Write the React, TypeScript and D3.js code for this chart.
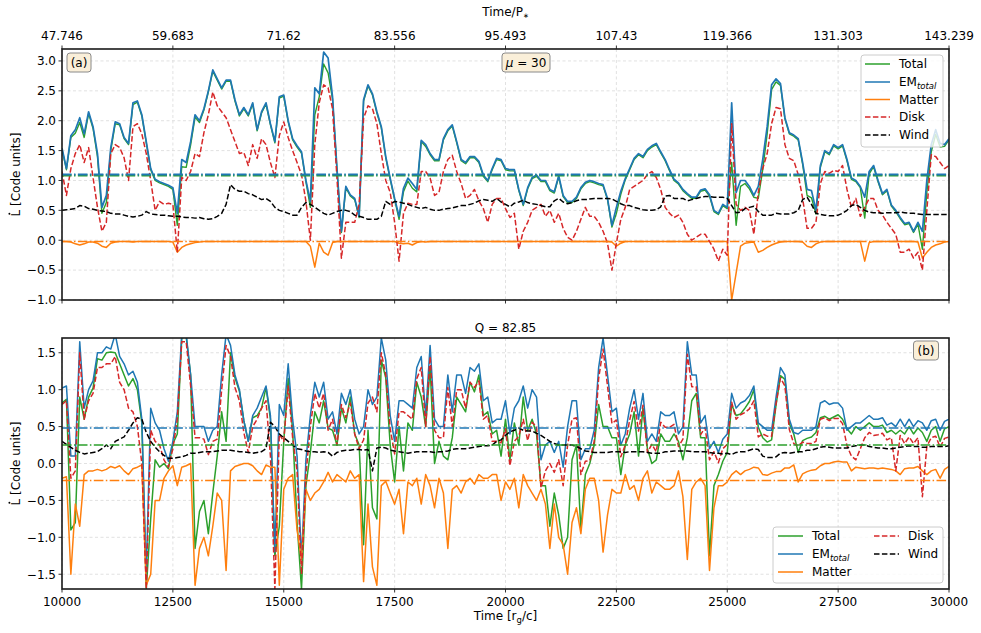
import * as d3 from 'd3';

// ---------------------------------------------------------------------------
// Data (read off the reference figure), sampled every 100 r_g/c
// ---------------------------------------------------------------------------

const TIME = d3.range(10000, 30001, 100);
const X_TICKS = [10000, 12500, 15000, 17500, 20000, 22500, 25000, 27500, 30000];
const X_TICK_LABELS = ['10000', '12500', '15000', '17500', '20000', '22500', '25000', '27500', '30000'];
const TOP_TICK_LABELS = ['47.746', '59.683', '71.62', '83.556', '95.493', '107.43', '119.366', '131.303', '143.239'];
const Y_TICKS_A = [-1, -0.5, 0, 0.5, 1, 1.5, 2, 2.5, 3];
const Y_TICKS_B = [-1.5, -1, -0.5, 0, 0.5, 1, 1.5];

// panel (a)
const TOTAL_A = [
  1.52, 1.18, 1.72, 1.79, 1.97, 1.72, 2.12, 1.87, 1.4, 0.45,
  0.63, 1.5, 1.95, 1.93, 1.7, 1.6, 2.27, 2.31, 2.08, 1.63,
  1.18, 1.0, 0.96, 0.93, 0.9, 0.85, 0.25, 1.23, 1.22, 1.59,
  2.06, 1.97, 2.18, 2.48, 2.83, 2.68, 2.53, 2.66, 2.66, 2.33,
  2.08, 2.2, 2.08, 2.28, 1.83, 2.13, 2.28, 1.93, 1.63, 2.38,
  2.41, 1.98, 1.68, 1.56, 1.46, 0.98, 0.55, 2.1, 2.4, 2.95,
  2.8, 2.36, 1.18, 0.13, 0.88, 0.74, 0.68, 0.38, 2.33, 2.58,
  2.43, 2.13, 1.88, 1.38, 1.02, 0.68, 0.35, 0.81, 0.99, 0.87,
  0.81, 1.65, 1.57, 1.43, 1.33, 1.33, 1.68, 1.83, 1.91, 1.63,
  1.33, 1.28, 1.38, 1.38, 1.3, 1.07, 0.98, 1.18, 1.35, 1.33,
  1.18, 1.16, 1.16, 0.83, 0.58, 0.86, 1.03, 1.07, 0.98, 0.98,
  0.83, 0.79, 1.06, 0.73, 0.63, 0.63, 0.7, 0.86, 0.95, 0.98,
  0.96, 0.93, 0.91, 0.68, 0.22, 0.45, 0.77, 1.01, 1.18, 1.35,
  1.43, 1.38, 1.5, 1.56, 1.6, 1.46, 1.33, 1.16, 1.0, 0.94,
  0.83, 0.76, 0.7, 0.7, 0.82, 0.84, 0.74, 0.48, 0.43, 0.58,
  0.53, 1.3, 0.25, 0.9, 0.95, 0.86, 0.72, 0.7, 1.18, 1.78,
  2.52, 2.65, 2.59, 2.03, 1.78, 1.74, 1.68, 1.27, 0.75, 0.71,
  0.44, 1.22, 1.48, 1.43, 1.58, 1.53, 1.58, 1.33, 1.02, 0.98,
  0.88, 0.37, 1.11, 1.23, 0.98, 0.76, 0.83, 0.57, 0.48, 0.36,
  0.26, 0.28, 0.13, 0.27, -0.15, 0.8, 1.48, 1.77, 1.56, 1.57,
  1.68,
];
const EM_A = [
  1.54, 1.2, 1.75, 1.85, 2.05, 1.78, 2.15, 1.9, 1.45, 0.55,
  0.75, 1.55, 1.98, 1.95, 1.72, 1.62, 2.3, 2.33, 2.1, 1.65,
  1.2, 1.02, 0.98, 0.95, 0.92, 0.88, 0.45, 1.35, 1.3, 1.65,
  2.1, 2.0, 2.2, 2.5, 2.85, 2.7, 2.55, 2.68, 2.68, 2.35,
  2.1, 2.22, 2.1, 2.3, 1.85, 2.15, 2.3, 1.95, 1.65, 2.4,
  2.43, 2.0, 1.7, 1.58, 1.48, 1.0, 0.65, 2.55, 2.45, 3.15,
  3.05, 2.4, 1.2, 0.15, 0.9, 0.76, 0.7, 0.4, 2.35, 2.6,
  2.45, 2.15, 1.9, 1.4, 1.04, 0.7, 0.4, 0.87, 1.04, 0.95,
  0.85, 1.67, 1.6, 1.45, 1.35, 1.35, 1.7, 1.85, 1.93, 1.65,
  1.35, 1.3, 1.4, 1.4, 1.32, 1.09, 1.0, 1.2, 1.37, 1.35,
  1.2, 1.18, 1.18, 0.85, 0.6, 0.88, 1.05, 1.09, 1.0, 1.0,
  0.85, 0.81, 1.08, 0.75, 0.65, 0.65, 0.72, 0.88, 0.97, 1.0,
  0.98, 0.95, 0.93, 0.7, 0.25, 0.55, 0.82, 1.03, 1.2, 1.37,
  1.45, 1.4, 1.52, 1.58, 1.62, 1.48, 1.35, 1.18, 1.02, 0.96,
  0.85, 0.78, 0.72, 0.72, 0.84, 0.86, 0.76, 0.5, 0.45, 0.6,
  0.55, 2.3, 0.8, 1.0, 1.0, 0.9, 0.75, 0.9, 1.35, 1.9,
  2.6, 2.7, 2.62, 2.05, 1.8, 1.76, 1.7, 1.3, 0.85, 0.83,
  0.5, 1.25, 1.5, 1.45, 1.6, 1.55, 1.6, 1.35, 1.04, 1.0,
  0.9, 0.72, 1.15, 1.25, 1.0, 0.78, 0.85, 0.59, 0.5, 0.38,
  0.28, 0.3, 0.15, 0.3, 0.15, 1.0, 1.6, 1.85, 1.62, 1.6,
  1.7,
];
const MATTER_A = [
  -0.02, -0.02, -0.03, -0.06, -0.08, -0.06, -0.03, -0.03, -0.05, -0.1,
  -0.12, -0.05, -0.03, -0.02, -0.02, -0.02, -0.03, -0.02, -0.02, -0.02,
  -0.02, -0.02, -0.02, -0.02, -0.02, -0.03, -0.2, -0.12, -0.08, -0.06,
  -0.04, -0.03, -0.02, -0.02, -0.02, -0.02, -0.02, -0.02, -0.02, -0.02,
  -0.02, -0.02, -0.02, -0.02, -0.02, -0.02, -0.02, -0.02, -0.02, -0.02,
  -0.02, -0.02, -0.02, -0.02, -0.02, -0.02, -0.1, -0.45, -0.05, -0.2,
  -0.25, -0.04, -0.02, -0.02, -0.02, -0.02, -0.02, -0.02, -0.02, -0.02,
  -0.02, -0.02, -0.02, -0.02, -0.02, -0.02, -0.05, -0.06, -0.05, -0.08,
  -0.04, -0.02, -0.03, -0.02, -0.02, -0.02, -0.02, -0.02, -0.02, -0.02,
  -0.02, -0.02, -0.02, -0.02, -0.02, -0.02, -0.02, -0.02, -0.02, -0.02,
  -0.02, -0.02, -0.02, -0.02, -0.02, -0.02, -0.02, -0.02, -0.02, -0.02,
  -0.02, -0.02, -0.02, -0.02, -0.02, -0.02, -0.02, -0.02, -0.02, -0.02,
  -0.02, -0.02, -0.02, -0.02, -0.03, -0.1, -0.05, -0.02, -0.02, -0.02,
  -0.02, -0.02, -0.02, -0.02, -0.02, -0.02, -0.02, -0.02, -0.02, -0.02,
  -0.02, -0.02, -0.02, -0.02, -0.02, -0.02, -0.02, -0.02, -0.02, -0.02,
  -0.02, -1.0, -0.55, -0.1, -0.05, -0.04, -0.03, -0.2, -0.17, -0.12,
  -0.08, -0.05, -0.03, -0.02, -0.02, -0.02, -0.02, -0.03, -0.1, -0.12,
  -0.06, -0.03, -0.02, -0.02, -0.02, -0.02, -0.02, -0.02, -0.02, -0.02,
  -0.02, -0.35, -0.04, -0.02, -0.02, -0.02, -0.02, -0.02, -0.02, -0.02,
  -0.02, -0.02, -0.02, -0.03, -0.3, -0.2, -0.12, -0.08, -0.06, -0.03,
  -0.02,
];
const DISK_A = [
  1.15, 0.75, 1.2, 1.45, 1.6, 1.3, 1.55, 1.05, 0.55, 0.15,
  0.3, 1.45, 1.6, 1.55, 1.38, 1.0, 1.9, 1.95, 1.78, 1.45,
  1.0, 0.5, 0.65, 0.6, 0.62, 0.6, -0.2, 1.05, 1.0, 1.15,
  1.45, 1.4, 1.8, 2.1, 2.48, 2.25, 2.15, 2.05, 1.85, 1.65,
  1.45, 1.47, 1.25, 1.6, 1.37, 1.7, 1.6, 1.3, 1.05, 1.75,
  1.98, 1.72, 1.5, 1.3, 1.1, 0.65, 0.0, 1.6, 2.3, 2.6,
  2.55, 2.2, 1.05, -0.3, 0.3, 0.3, 0.3, 0.6, 2.04, 2.25,
  2.2, 1.95, 1.45, 1.0, 0.8, 0.3, -0.35, 0.45, 0.62, 0.6,
  0.6, 1.15, 1.15, 1.04, 0.75, 0.8, 1.15, 1.35, 1.42, 1.15,
  0.95, 0.7, 0.75, 0.85, 0.66, 0.53, 0.3, 0.6, 0.7, 0.7,
  0.53, 0.38, 0.45, -0.15, 0.15, 0.3, 0.5, 0.55, 0.6, 0.4,
  0.5, 0.3, 0.45, 0.2, 0.05, 0.0, 0.15, 0.35, 0.55, 0.4,
  0.4, 0.3, 0.15, -0.05, -0.5, -0.05, 0.35, 0.55, 0.85, 0.9,
  0.95, 1.0, 1.1, 1.15, 1.05, 0.85, 0.55, 0.45, 0.38, 0.42,
  0.3, 0.1, 0.0, 0.05, 0.1, 0.1, -0.02, -0.15, -0.35, -0.15,
  -0.25, 1.95, 0.6, 0.5, 0.55, 0.5, 0.1, 0.8, 1.2, 1.45,
  1.95, 2.22, 2.2, 1.6, 1.37, 1.33, 1.1, 0.7, 0.2, 0.2,
  0.3, 0.95, 1.15, 1.12, 1.17, 1.15, 1.25, 0.85, 0.55, 0.7,
  0.4, 0.55, 0.7, 0.7, 0.5, 0.42, 0.3, 0.2, 0.1, -0.2,
  -0.2, -0.15, -0.3, -0.2, -0.5, 0.5, 1.43, 1.4, 1.3, 1.2,
  1.25,
];
const WIND_A = [
  0.5, 0.51, 0.52, 0.53, 0.58, 0.57, 0.53, 0.52, 0.5, 0.49,
  0.48, 0.45, 0.44, 0.44, 0.42, 0.4, 0.39, 0.4, 0.42, 0.48,
  0.44, 0.43, 0.42, 0.42, 0.41, 0.4, 0.4, 0.39, 0.38, 0.38,
  0.37, 0.38, 0.36, 0.35, 0.36, 0.4, 0.45, 0.6, 0.93, 0.85,
  0.82, 0.82, 0.78, 0.76, 0.72, 0.68, 0.7, 0.65, 0.55, 0.5,
  0.48, 0.45, 0.42, 0.42, 0.55, 0.63, 0.6, 0.55, 0.5, 0.45,
  0.42, 0.45, 0.48, 0.5, 0.5, 0.48, 0.42, 0.4, 0.38, 0.35,
  0.35, 0.35, 0.4, 0.65, 0.6, 0.65, 0.64, 0.62, 0.6, 0.57,
  0.55, 0.53, 0.55, 0.52, 0.5, 0.5, 0.52, 0.53, 0.54, 0.56,
  0.58, 0.58, 0.6, 0.62, 0.66, 0.68, 0.67, 0.65, 0.7, 0.64,
  0.6, 0.56, 0.62, 0.64, 0.67, 0.63, 0.61, 0.6, 0.58, 0.56,
  0.56, 0.66, 0.7, 0.64, 0.61, 0.63, 0.66, 0.68, 0.68, 0.69,
  0.7, 0.7, 0.7, 0.7, 0.69, 0.65, 0.61, 0.58, 0.58, 0.55,
  0.53, 0.51, 0.5, 0.5, 0.51, 0.56, 0.74, 0.75, 0.7, 0.7,
  0.7, 0.66, 0.68, 0.7, 0.72, 0.73, 0.73, 0.72, 0.72, 0.72,
  0.7, 0.58, 0.46, 0.47, 0.53, 0.55, 0.57, 0.48, 0.42, 0.42,
  0.42, 0.45, 0.44, 0.44, 0.44, 0.46, 0.5, 0.68, 0.72, 0.6,
  0.45, 0.43, 0.42, 0.41, 0.41, 0.42, 0.45, 0.5, 0.58, 0.6,
  0.55, 0.5, 0.47, 0.46, 0.46, 0.45, 0.46, 0.46, 0.46, 0.47,
  0.46, 0.45, 0.45, 0.44, 0.43, 0.43, 0.43, 0.43, 0.43, 0.43,
  0.43,
];

// panel (b)
const TOTAL_B = [
  0.82, 0.87, -0.9, -0.8, 0.9, 0.6, 0.9, 1.02, 1.42, 1.4,
  1.5, 1.51, 1.5, 1.35, 1.2, 1.05, 1.15, 1.0, 0.55, -1.7,
  -0.75, 0.05, -0.05, 0.0, -0.07, 0.27, 0.4, 1.7, 1.72, 1.2,
  -1.15, -0.65, -0.5, -0.95, -0.4, 0.1, 0.7, 0.3, 1.5, 1.16,
  0.98, 0.58, 0.3, 0.62, 0.65, 0.75, 1.03, 0.6, -1.25, -0.85,
  0.3, 1.15, 0.45, -0.8, -1.7, -0.3, 0.15, 0.7, 0.55, 0.85,
  0.48, 0.45, 0.25, 0.75, 0.55, 0.9, 0.4, 0.25, -1.1, 0.45,
  -0.6, -0.75, 1.4, 1.16, 0.25, -0.25, 0.5, -0.1, 0.55, 0.45,
  1.1, 0.9, 0.5, 1.3, 0.0, 0.3, 0.1, 0.05, 0.35, 0.9,
  0.8, 0.7, 1.1, 0.97, 1.2, 0.65, 0.7, 0.4, 0.45, 0.1,
  0.6, 0.05, 0.55, 0.25, 0.9, 0.45, 0.6, 0.4, -0.3, -0.3,
  -0.85, -0.4, -0.7, -1.15, -1.0, 0.05, 0.25, -0.9, -0.15, 0.0,
  0.25, 0.8, 0.5, 0.5, 0.35, 0.35, -0.15, 0.25, 0.4, 0.7,
  0.1, 0.75, 0.2, 0.0, 0.05, 0.4, 0.3, 0.3, 0.4, 0.3,
  0.05, 0.35, 0.85, 0.95, 0.35, 0.35, -1.25, -0.3, -0.15, 0.03,
  0.15, 0.8, 0.65, 0.67, 0.75, 0.84, 1.0, 0.49, 0.35, 0.29,
  0.32, 0.79, 1.19, 1.14, 0.54, 0.4, 0.15, 0.31, 0.34, 0.36,
  0.42, 0.62, 0.64, 0.6, 0.63, 0.66, 0.6, 0.47, 0.4, 0.5,
  0.45, 0.5, 0.55, 0.5, 0.5, 0.52, 0.42, 0.45, 0.4, 0.45,
  0.4, 0.5, 0.4, 0.48, 0.42, 0.3, 0.45, 0.5, 0.3, 0.47,
  0.5,
];
const EM_B = [
  1.02, 1.05, 0.1, 0.1, 1.65, 0.75, 1.0, 1.12, 1.5, 1.5,
  1.58, 1.55, 1.75, 1.45, 1.35, 1.2, 1.25, 1.1, 0.6, -1.5,
  0.75, 0.55, 0.45, 0.2, 0.03, 0.3, 0.7, 1.75, 1.75, 1.2,
  0.5, 0.5, 0.5, 0.3, 0.45, 0.5, 1.2, 1.75, 1.6, 1.2,
  1.0, 0.58, 0.3, 0.65, 0.75, 0.9, 1.05, 0.65, -1.2, 0.8,
  0.65, 1.35, 0.6, 0.1, -1.3, 0.05, 0.65, 1.1, 0.9, 1.1,
  0.6, 0.7, 0.4, 0.95, 0.8, 1.0, 0.6, 0.4, 0.5, 1.0,
  0.8, 0.9, 1.7, 1.4, 0.65, 0.3, 0.85, 0.85, 0.8, 0.75,
  1.3, 1.45, 0.65, 1.6, 0.6, 0.5, 0.5, 1.2, 0.7, 1.2,
  1.2, 0.95, 1.3, 1.25, 1.35, 0.85, 0.9, 0.55, 0.6, 0.6,
  0.85, 0.4, 0.75, 0.85, 1.05, 0.75, 1.0, 0.9, 0.05, 0.25,
  0.3, 0.15, 0.3, -0.05, 0.5, 0.85, 0.85, 0.05, 0.2, 0.2,
  0.45, 1.3, 1.7, 1.2, 0.7, 0.75, 0.25, 0.4, 0.75, 1.0,
  0.6, 0.95, 0.3, 0.4, 0.3, 0.7, 0.65, 0.65, 0.7, 0.4,
  0.5, 1.65, 1.2, 1.2, 0.55, 0.65, 0.2, 0.3, 0.15, 0.33,
  0.4, 0.95, 0.75, 0.82, 0.85, 0.92, 1.05, 0.55, 0.5, 0.45,
  0.45, 0.9, 1.3, 1.2, 0.6, 0.42, 0.4, 0.45, 0.45, 0.45,
  0.5, 0.82, 0.85, 0.8, 0.82, 0.82, 0.75, 0.45, 0.5, 0.55,
  0.55, 0.6, 0.65, 0.6, 0.6, 0.62, 0.52, 0.55, 0.5, 0.6,
  0.5, 0.6, 0.5, 0.58, 0.55, 0.45, 0.58, 0.6, 0.45, 0.57,
  0.6,
];
const MATTER_B = [
  -0.2, -0.18, -1.5, -0.55, -0.85, -0.15, -0.1, -0.1, -0.08, -0.1,
  -0.08, -0.04, -0.06, -0.03, -0.1, -0.15, -0.07, -0.05, -0.02, -1.65,
  -1.5, -0.5, -0.5, -0.2, -0.1, -0.03, -0.3, -0.05, -0.03, 0.0,
  -1.65, -1.15, -1.0, -1.25, -0.85, -0.4, -0.5, -1.45, -0.1, -0.04,
  -0.02, 0.0, 0.0, -0.03, -0.1, -0.15, -0.02, -0.05, -0.05, -1.65,
  -0.35, -0.2, -0.15, -0.9, -1.3, -0.35, -0.5, -0.4, -0.35, -0.25,
  -0.12, -0.25, -0.15, -0.2, -0.25, -0.1, -0.2, -0.15, -1.6, -0.55,
  -1.4, -1.65, -0.3, -0.24, -0.4, -0.55, -0.35, -0.95, -0.25, -0.3,
  -0.2, -0.55, -0.15, -0.3, -0.6, -0.2, -0.4, -1.15, -0.35, -0.3,
  -0.4, -0.25, -0.2, -0.28, -0.15, -0.2, -0.2, -0.15, -0.15, -0.5,
  -0.25, -0.35, -0.2, -0.6, -0.15, -0.3, -0.4, -0.5, -0.35, -0.55,
  -1.15, -0.55, -1.0, -1.1, -1.5, -0.8, -0.6, -0.95, -0.35, -0.2,
  -0.2, -0.5, -1.2, -0.7, -0.35, -0.4, -0.4, -0.15, -0.35, -0.3,
  -0.5, -0.2, -0.1, -0.4, -0.25, -0.3, -0.35, -0.35, -0.3, -0.1,
  -0.45, -1.3, -0.35, -0.25, -0.2, -0.3, -1.45, -0.6, -0.3, -0.3,
  -0.25, -0.15, -0.1, -0.15, -0.1, -0.08, -0.05, -0.06, -0.15, -0.16,
  -0.13, -0.11, -0.11, -0.06, -0.06, -0.02, -0.25, -0.14, -0.11, -0.09,
  -0.08, -0.03, 0.0, 0.0, 0.02, 0.03, 0.02, 0.02, -0.1, -0.05,
  -0.06, -0.07, -0.06, -0.06, -0.07, -0.06, -0.07, -0.08, -0.1, -0.15,
  -0.07, -0.06, -0.06, -0.04, -0.1, -0.15, -0.1, -0.08, -0.2, -0.08,
  -0.04,
];
const DISK_B = [
  0.8, 0.85, -0.2, -0.1, 1.5, 0.6, 0.85, 0.95, 1.3, 1.3,
  1.35, 1.35, 1.45, 1.1, 1.0, 0.75, 0.7, 0.5, 0.0, -1.7,
  0.45, 0.3, 0.25, 0.05, -0.05, 0.2, 0.6, 1.65, 1.65, 1.05,
  0.35, 0.35, 0.33, 0.12, 0.3, 0.33, 1.0, 1.6, 1.45, 1.03,
  0.85, 0.42, 0.15, 0.5, 0.6, 0.75, 0.85, 0.1, -1.7, 0.4,
  0.3, 1.05, 0.35, -0.1, -1.5, -0.15, 0.5, 0.95, 0.75, 0.95,
  0.45, 0.6, 0.25, 0.8, 0.62, 0.82, 0.4, 0.2, 0.32, 0.82,
  0.9, 0.7, 1.5, 1.2, 0.47, 0.13, 0.7, 0.7, 0.65, 0.6,
  1.15, 1.3, 0.5, 1.45, 0.45, 0.35, 0.35, 1.03, 0.5, 1.0,
  1.0, 0.75, 1.1, 1.03, 1.12, 0.6, 0.65, 0.3, 0.3, 0.28,
  0.47, -0.03, 0.3, 0.37, 0.6, 0.31, 0.56, 0.5, -0.33, -0.1,
  0.0, -0.12, 0.05, -0.3, 0.25, 0.6, 0.62, -0.15, 0.03, 0.04,
  0.3, 1.15, 1.55, 1.05, 0.54, 0.59, 0.09, 0.25, 0.59, 0.84,
  0.44, 0.79, 0.15, 0.26, 0.16, 0.56, 0.49, 0.49, 0.53, 0.23,
  0.33, 1.48, 1.04, 1.04, 0.39, 0.49, 0.05, 0.16, 0.01, 0.2,
  0.26, 0.83, 0.6, 0.66, 0.69, 0.74, 0.85, 0.36, 0.4, 0.37,
  0.37, 0.81, 1.16, 1.05, 0.46, 0.27, 0.24, 0.29, 0.27, 0.27,
  0.3, 0.6, 0.62, 0.58, 0.61, 0.61, 0.54, 0.24, 0.1, 0.05,
  0.2, 0.35, 0.42, 0.38, 0.39, 0.41, 0.32, 0.35, -0.1, 0.38,
  0.27, 0.36, 0.27, 0.35, -0.45, 0.23, 0.35, 0.37, 0.22, 0.34,
  0.36,
];
const WIND_B = [
  0.3, 0.26, 0.22, 0.18, 0.15, 0.13, 0.14, 0.15, 0.16, 0.2,
  0.25, 0.2, 0.3, 0.33, 0.36, 0.45, 0.55, 0.62, 0.6, 0.42,
  0.3, 0.22, 0.16, 0.11, 0.07, 0.07, 0.08, 0.09, 0.11, 0.14,
  0.14, 0.15, 0.16, 0.16, 0.16, 0.17, 0.18, 0.18, 0.18, 0.17,
  0.16, 0.16, 0.15, 0.14, 0.15, 0.16, 0.2, 0.56, 0.5, 0.4,
  0.35, 0.3, 0.25, 0.2, 0.19, 0.17, 0.16, 0.16, 0.15, 0.16,
  0.15, 0.1, 0.15, 0.17, 0.18, 0.18, 0.19, 0.19, 0.18, 0.19,
  -0.1, 0.21, 0.22, 0.21, 0.18, 0.17, 0.16, 0.15, 0.14, 0.15,
  0.16, 0.16, 0.16, 0.16, 0.15, 0.16, 0.16, 0.17, 0.19, 0.2,
  0.2, 0.2, 0.21, 0.22, 0.23, 0.24, 0.24, 0.25, 0.3, 0.32,
  0.38, 0.43, 0.45, 0.48, 0.45, 0.44, 0.44, 0.41, 0.38, 0.34,
  0.3, 0.27, 0.25, 0.25, 0.25, 0.25, 0.23, 0.2, 0.17, 0.16,
  0.15, 0.15, 0.15, 0.15, 0.16, 0.16, 0.16, 0.15, 0.16, 0.16,
  0.16, 0.16, 0.15, 0.14, 0.14, 0.14, 0.16, 0.16, 0.17, 0.17,
  0.17, 0.17, 0.16, 0.16, 0.16, 0.16, 0.15, 0.14, 0.14, 0.13,
  0.14, 0.12, 0.15, 0.16, 0.16, 0.18, 0.2, 0.19, 0.1, 0.08,
  0.08, 0.09, 0.14, 0.15, 0.14, 0.15, 0.16, 0.16, 0.18, 0.18,
  0.2, 0.22, 0.23, 0.22, 0.21, 0.21, 0.21, 0.21, 0.23, 0.24,
  0.25, 0.25, 0.23, 0.22, 0.21, 0.21, 0.2, 0.2, 0.21, 0.22,
  0.23, 0.24, 0.23, 0.23, 0.22, 0.22, 0.23, 0.23, 0.23, 0.23,
  0.24,
];

// time-averaged levels (Total, EM, Matter)
const MEANS_A = [1.085, 1.1, -0.02];
const MEANS_B = [0.25, 0.48, -0.23];

// ---------------------------------------------------------------------------
// Style
// ---------------------------------------------------------------------------

const GREEN = '#2ca02c';
const BLUE = '#1f77b4';
const ORANGE = '#ff7f0e';
const RED = '#d62728';
const BLACK = '#000000';
const GRID = '#d9d9d9';
const FONT = '"DejaVu Sans", Verdana, sans-serif';

const W = 981;
const H = 633;
const LEFT = 62;
const RIGHT = 949;
const PANEL_A = { top: 49, bottom: 300 };
const PANEL_B = { top: 338, bottom: 589 };

const x = d3.scaleLinear().domain([10000, 30000]).range([LEFT, RIGHT]);

const fmtY = (v: number) => (v < 0 ? '\u2212' : '') + Math.abs(v).toFixed(1);

interface Series {
  values: number[];
  color: string;
  width: number;
  dash?: string;
}

interface PanelProps {
  id: string;
  top: number;
  bottom: number;
  domain: [number, number];
  yTicks: number[];
  series: Series[];
  means: number[];
  meanWidths: number[];
  showBottomLabels: boolean;
  showTopTicks: boolean;
}

function Panel({ id, top, bottom, domain, yTicks, series, means, meanWidths, showBottomLabels, showTopTicks }: PanelProps) {
  const y = d3.scaleLinear().domain(domain).range([bottom, top]);
  const line = d3.line<number>()
    .x((_d, i) => x(TIME[i]))
    .y((d) => y(d));
  const meanColors = [GREEN, BLUE, ORANGE];
  const cy = (top + bottom) / 2;

  return (
    <g>
      <defs>
        <clipPath id={`clip-${id}`}>
          <rect x={LEFT} y={top} width={RIGHT - LEFT} height={bottom - top} />
        </clipPath>
      </defs>

      {/* grid */}
      {X_TICKS.map((t) => (
        <line key={`gx${t}`} x1={x(t)} x2={x(t)} y1={top} y2={bottom}
          stroke={GRID} strokeWidth={0.8} strokeDasharray="3,2.5" />
      ))}
      {yTicks.map((v) => (
        <line key={`gy${v}`} x1={LEFT} x2={RIGHT} y1={y(v)} y2={y(v)}
          stroke={GRID} strokeWidth={0.8} strokeDasharray="3,2.5" />
      ))}

      {/* series */}
      <g clipPath={`url(#clip-${id})`}>
        {series.map((s, k) => (
          <path key={k} d={line(s.values) ?? ''} fill="none" stroke={s.color}
            strokeWidth={s.width} strokeDasharray={s.dash} strokeLinejoin="round" />
        ))}
        {means.map((m, k) => (
          <line key={`m${k}`} x1={LEFT} x2={RIGHT} y1={y(m)} y2={y(m)}
            stroke={meanColors[k]} strokeWidth={meanWidths[k]} strokeDasharray="9.6,2.4,1.5,2.4" />
        ))}
      </g>

      {/* y ticks */}
      {yTicks.map((v) => (
        <g key={`ty${v}`}>
          <line x1={LEFT - 3.5} x2={LEFT} y1={y(v)} y2={y(v)} stroke="#000" strokeWidth={0.8} />
          <text x={LEFT - 6} y={y(v) + 4.3} textAnchor="end" fontSize={12} fontFamily={FONT}>{fmtY(v)}</text>
        </g>
      ))}

      {/* x ticks */}
      {X_TICKS.map((t, i) => (
        <g key={`tx${t}`}>
          <line x1={x(t)} x2={x(t)} y1={bottom} y2={bottom + 3.5} stroke="#000" strokeWidth={0.8} />
          {showTopTicks && (
            <line x1={x(t)} x2={x(t)} y1={top - 3.5} y2={top} stroke="#000" strokeWidth={0.8} />
          )}
          {showTopTicks && (
            <text x={x(t)} y={top - 9} textAnchor="middle" fontSize={12} fontFamily={FONT}>{TOP_TICK_LABELS[i]}</text>
          )}
          {showBottomLabels && (
            <text x={x(t)} y={bottom + 17} textAnchor="middle" fontSize={12} fontFamily={FONT}>{X_TICK_LABELS[i]}</text>
          )}
        </g>
      ))}

      {/* frame */}
      <rect x={LEFT} y={top} width={RIGHT - LEFT} height={bottom - top} fill="none" stroke="#1a1a1a" strokeWidth={1.6} />

      {/* y label: L with a dot above */}
      <g transform={`translate(20,${cy}) rotate(-90)`}>
        <text x={0} y={0} textAnchor="middle" fontSize={12} fontFamily={FONT}>L [Code units]</text>
        <circle cx={-39.2} cy={-10.6} r={0.95} fill="#000" />
      </g>
    </g>
  );
}

function LegendRow({ x0, y0, color, dash, children }: { x0: number; y0: number; color: string; dash?: string; children: React.ReactNode }) {
  return (
    <g>
      <line x1={x0} x2={x0 + 25} y1={y0} y2={y0} stroke={color} strokeWidth={1.5} strokeDasharray={dash} />
      <text x={x0 + 34} y={y0 + 4.3} fontSize={12} fontFamily={FONT}>{children}</text>
    </g>
  );
}

const emLabel = (
  <>
    EM<tspan fontSize={8.5} fontStyle="italic" dy={3}>total</tspan>
  </>
);

function LabelBox({ cx, y0, w, children }: { cx: number; y0: number; w: number; children: React.ReactNode }) {
  return (
    <g>
      <rect x={cx - w / 2} y={y0} width={w} height={19} rx={3} fill="#faefd9" stroke="#8a8a8a" strokeWidth={1} />
      <text x={cx} y={y0 + 14} textAnchor="middle" fontSize={12} fontFamily={FONT}>{children}</text>
    </g>
  );
}

export default function App() {
  const DASH = '5.5,2.4';
  const seriesA: Series[] = [
    { values: TOTAL_A, color: GREEN, width: 1.4 },
    { values: EM_A, color: BLUE, width: 1.7 },
    { values: MATTER_A, color: ORANGE, width: 1.5 },
    { values: DISK_A, color: RED, width: 1.5, dash: DASH },
    { values: WIND_A, color: BLACK, width: 1.5, dash: DASH },
  ];
  const seriesB: Series[] = [
    { values: TOTAL_B, color: GREEN, width: 1.5 },
    { values: EM_B, color: BLUE, width: 1.5 },
    { values: MATTER_B, color: ORANGE, width: 1.5 },
    { values: DISK_B, color: RED, width: 1.5, dash: DASH },
    { values: WIND_B, color: BLACK, width: 1.5, dash: DASH },
  ];

  return (
    <div style={{ position: 'absolute', left: 0, top: 0 }}>
      <svg width={W} height={H} viewBox={`0 0 ${W} ${H}`} style={{ display: 'block', background: '#fff' }}>
        <rect width={W} height={H} fill="#fff" />

        {/* top axis title */}
        <text x={(LEFT + RIGHT) / 2} y={16} textAnchor="middle" fontSize={12} fontFamily={FONT}>
          Time/P<tspan fontSize={7} dy={2}>{'\u2217'}</tspan>
        </text>

        <Panel id="a" top={PANEL_A.top} bottom={PANEL_A.bottom} domain={[-1, 3.2]} yTicks={Y_TICKS_A}
          series={seriesA} means={MEANS_A} meanWidths={[2.2, 1.8, 1.5]} showBottomLabels={false} showTopTicks />

        <Panel id="b" top={PANEL_B.top} bottom={PANEL_B.bottom} domain={[-1.7, 1.7]} yTicks={Y_TICKS_B}
          series={seriesB} means={MEANS_B} meanWidths={[1.5, 1.5, 1.5]} showBottomLabels showTopTicks={false} />

        {/* panel (a) annotations */}
        <LabelBox cx={79} y0={53} w={24}>(a)</LabelBox>
        <LabelBox cx={526} y0={53} w={48}>
          <tspan fontStyle="italic">{'\u03bc'}</tspan> = 30
        </LabelBox>

        <g>
          <rect x={861} y={55} width={82} height={92} rx={3} fill="#fff" fillOpacity={0.8} stroke="#cccccc" strokeWidth={1} />
          <LegendRow x0={865} y0={64} color={GREEN}>Total</LegendRow>
          <LegendRow x0={865} y0={82} color={BLUE}>{emLabel}</LegendRow>
          <LegendRow x0={865} y0={99.5} color={ORANGE}>Matter</LegendRow>
          <LegendRow x0={865} y0={117} color={RED} dash="5.5,2.4">Disk</LegendRow>
          <LegendRow x0={865} y0={135} color={BLACK} dash="5.5,2.4">Wind</LegendRow>
        </g>

        {/* panel (b) annotations */}
        <text x={(LEFT + RIGHT) / 2} y={332} textAnchor="middle" fontSize={12} fontFamily={FONT}>Q = 82.85</text>
        <LabelBox cx={926} y0={341} w={25}>(b)</LabelBox>

        <g>
          <rect x={773} y={527} width={170} height={56} rx={3} fill="#fff" fillOpacity={0.8} stroke="#cccccc" strokeWidth={1} />
          <LegendRow x0={778} y0={536} color={GREEN}>Total</LegendRow>
          <LegendRow x0={778} y0={554} color={BLUE}>{emLabel}</LegendRow>
          <LegendRow x0={778} y0={572} color={ORANGE}>Matter</LegendRow>
          <LegendRow x0={874} y0={536} color={RED} dash="5.5,2.4">Disk</LegendRow>
          <LegendRow x0={874} y0={554} color={BLACK} dash="5.5,2.4">Wind</LegendRow>
        </g>

        {/* bottom axis title */}
        <text x={(LEFT + RIGHT) / 2} y={620} textAnchor="middle" fontSize={12} fontFamily={FONT}>
          Time [r<tspan fontSize={8.5} dy={3}>g</tspan><tspan dy={-3}>/c]</tspan>
        </text>
      </svg>
    </div>
  );
}
